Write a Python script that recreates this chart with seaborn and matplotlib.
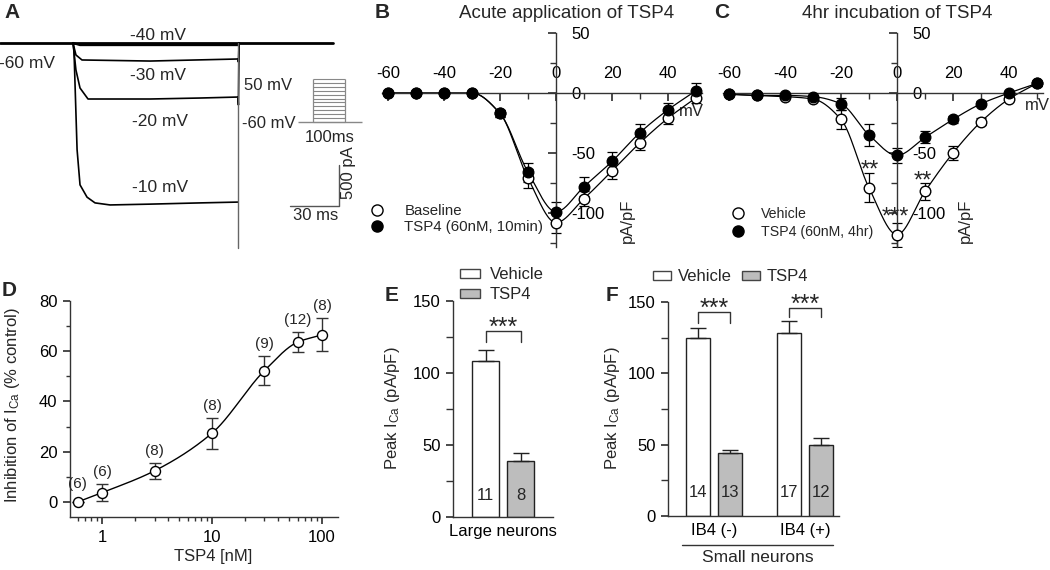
import numpy as np
import pandas as pd
import matplotlib
matplotlib.use("Agg")
import matplotlib.pyplot as plt
import seaborn as sns
from matplotlib.lines import Line2D
from matplotlib.patches import Patch
from matplotlib.ticker import FixedLocator, NullFormatter

# ======================= DATA =======================
# Panel A: representative Ca2+ current traces (time in ms, current in pA)
a_hold_t = [0, 204]
a_hold_i = [0, 0]
a_m40_t = [44.7, 49.0, 145.7, 146.4]
a_m40_i = [0, -25, -25, 0]
a_m30_t = [44.7, 46.5, 50.2, 91.9, 145.7, 146.0, 146.4]
a_m30_i = [0, -146, -207, -220, -195, -232, 0]
a_m20_t = [44.7, 46.5, 49.0, 53.9, 91.9, 122.5, 145.7, 146.0, 146.4]
a_m20_i = [0, -329, -549, -683, -683, -671, -659, -756, 0]
a_m10_t = [44.7, 45.3, 47.2, 49.0, 53.3, 58.2, 67.4, 91.9, 122.5, 145.7]
a_m10_i = [0, -90, -1300, -1730, -1880, -1950, -1975, -1965, -1950, -1940]
a_tail_t = [145.7, 145.7]
a_tail_i = [-2500, 0]
trace_labels = ["-40 mV", "-60 mV", "-30 mV", "-20 mV", "-10 mV"]
# voltage protocol (mV) and step duration (ms)
prot_levels = [-60, -50, -40, -30, -20, -10, 0, 10, 20, 30, 40, 50]
prot_step = [0, 100]
# scale bar sizes
sb_ms = 30
sb_pA = 500

# Panel B: acute application (pA/pF)
b_v = [-60, -50, -40, -30, -20, -10, 0, 10, 20, 30, 40, 50]
b_base = [0, 0, 0, 0, -17, -71, -108, -88, -65, -41.5, -21, -4]
b_base_err = [0, 0, 0, 0, 3, 8, 9, 6, 7, 6, 5, 4]
b_tsp = [0, 0, 0, 0, -17, -66, -99, -78, -57, -33, -14, 2]
b_tsp_err = [0, 0, 0, 0, 3, 8, 8, 8, 8, 7, 6, 6]

# Panel C: 4 hr incubation (pA/pF)
c_v = [-60, -50, -40, -30, -20, -10, 0, 10, 20, 30, 40, 50]
c_veh = [-1, -2, -3, -5, -22, -79, -118, -82, -50, -24, -5, 8]
c_veh_err = [0, 0, 1, 1, 8, 12, 10, 7, 6, 3, 2, 2]
c_tsp = [-1, -2, -2, -3, -9, -35, -52, -37, -22, -9, 0, 8]
c_tsp_err = [0, 0, 1, 1, 5, 9, 6, 5, 3, 2, 2, 2]
c_sig = ["**", "**", "***"]

# Panel D: concentration-response
d_conc = [0.6, 1, 3, 10, 30, 60, 100]
d_inhib = [0, 3.7, 12.4, 27.4, 52.3, 63.6, 66.5]
d_err = [0, 3.3, 3.1, 6.2, 5.9, 4.0, 6.6]
d_n = ["(6)", "(6)", "(8)", "(8)", "(9)", "(12)", "(8)"]

# Panel E: large neurons
e_groups = ["Large neurons"]
e_veh = [108]
e_veh_err = [8]
e_tsp = [39]
e_tsp_err = [5.5]
e_veh_n = [11]
e_tsp_n = [8]

# Panel F: small neurons
f_groups = ["IB4 (-)", "IB4 (+)"]
f_veh = [125, 128.5]
f_veh_err = [7, 8]
f_tsp = [44, 49.5]
f_tsp_err = [2.5, 5.5]
f_veh_n = [14, 17]
f_tsp_n = [13, 12]

conds = ["Vehicle", "TSP4"]

# ======================= STYLE =======================
sns.set_theme(style="ticks")
plt.rcParams["font.family"] = ["Liberation Sans", "DejaVu Sans"]
plt.rcParams["mathtext.fontset"] = "custom"
plt.rcParams["mathtext.rm"] = "Liberation Sans"
plt.rcParams["mathtext.it"] = "Liberation Sans:italic"
plt.rcParams["axes.unicode_minus"] = False
plt.rcParams["axes.edgecolor"] = "#333333"
plt.rcParams["axes.linewidth"] = 1.0
plt.rcParams["xtick.color"] = "#333333"
plt.rcParams["ytick.color"] = "#333333"
plt.rcParams["xtick.labelcolor"] = "black"
plt.rcParams["ytick.labelcolor"] = "black"
plt.rcParams["xtick.labelsize"] = 12
plt.rcParams["ytick.labelsize"] = 12

FS = 12
W, H = 1050, 570
fig = plt.figure(figsize=(10.5, 5.7), dpi=100)
fig.patch.set_facecolor("white")


def rect(b):
    x0, y0, x1, y1 = b
    return [x0 / W, 1 - y1 / H, (x1 - x0) / W, (y1 - y0) / H]


def ftext(x, y, s, **kw):
    kw.setdefault("ha", "center")
    kw.setdefault("va", "center")
    return fig.text(x / W, 1 - y / H, s, **kw)


def place_label(axis, b, x, y):
    x0, y0, x1, y1 = b
    axis.set_label_coords((x - x0) / (x1 - x0), (y1 - y) / (y1 - y0))
    lab = axis.label
    lab.set_ha("center")
    lab.set_va("center")
    lab.set_rotation_mode("default")


def pchip(x, y, xn):
    x = np.asarray(x, float)
    y = np.asarray(y, float)
    h = np.diff(x)
    d = np.diff(y) / h
    n = len(x)
    m = np.zeros(n)
    for k in range(1, n - 1):
        if d[k - 1] * d[k] > 0:
            w1 = 2 * h[k] + h[k - 1]
            w2 = h[k] + 2 * h[k - 1]
            m[k] = (w1 + w2) / (w1 / d[k - 1] + w2 / d[k])
    m[0] = d[0]
    m[-1] = d[-1]
    idx = np.clip(np.searchsorted(x, xn) - 1, 0, n - 2)
    t = (xn - x[idx]) / h[idx]
    h00 = 2 * t**3 - 3 * t**2 + 1
    h10 = t**3 - 2 * t**2 + t
    h01 = -2 * t**3 + 3 * t**2
    h11 = t**3 - t**2
    return h00 * y[idx] + h10 * h[idx] * m[idx] + h01 * y[idx + 1] + h11 * h[idx] * m[idx + 1]


LETTER = dict(fontsize=15, fontweight="bold")

# ======================= PANEL A =======================
px_ms, px_pA, base_px = 1.633, 0.082, 43
bA = (0, 20, 365, 260)
axA = fig.add_axes(rect(bA))
axA.set_xlim(0, (bA[2] - bA[0]) / px_ms)
axA.set_ylim(-(bA[3] - base_px) / px_pA, (base_px - bA[1]) / px_pA)
axA.axis("off")
sns.lineplot(x=a_hold_t, y=a_hold_i, color="black", lw=2.0, ax=axA, sort=False, estimator=None)
sns.lineplot(x=a_m40_t, y=a_m40_i, color="black", lw=1.6, ax=axA, sort=False, estimator=None)
for tt, ii in [(a_m30_t, a_m30_i), (a_m20_t, a_m20_i), (a_m10_t, a_m10_i)]:
    sns.lineplot(x=tt, y=ii, color="black", lw=1.2, ax=axA, sort=False, estimator=None)
sns.lineplot(x=a_tail_t, y=a_tail_i, color="#666666", lw=1.0, ax=axA, sort=False, estimator=None)
# scale bar
sb_x1 = 339 / px_ms
sb_y0 = -(206 - base_px) / px_pA
axA.plot([sb_x1 - sb_ms, sb_x1, sb_x1], [sb_y0, sb_y0, sb_y0 + sb_pA], color="#555555", lw=1.0)

for lab, (x, y) in zip(trace_labels, [(158, 35), (27, 63), (158, 76), (160, 122), (160, 188)]):
    ftext(x, y, lab, fontsize=12.5)
ftext(268, 85, "50 mV", fontsize=12)
ftext(269, 123, "-60 mV", fontsize=12)
ftext(330, 138, "100ms", fontsize=12)
ftext(316, 215, f"{sb_ms} ms", fontsize=12)
ftext(349, 173, f"{sb_pA} pA", fontsize=12, rotation=90)

# protocol inset
bP = (298, 79, 362, 122)
axP = fig.add_axes(rect(bP))
axP.axis("off")
axP.set_xlim((bP[0] - 313) / 0.32, (bP[2] - 313) / 0.32)
axP.set_ylim(-60, 50)
axP.hlines(prot_levels, prot_step[0], prot_step[1], color="#888888", lw=0.8, clip_on=False)
axP.vlines(prot_step, min(prot_levels), max(prot_levels), color="#888888", lw=0.9, clip_on=False)
axP.hlines([prot_levels[0]], axP.get_xlim()[0], axP.get_xlim()[1], color="#888888", lw=1.0, clip_on=False)

ftext(12, 12, "A", **LETTER)


# ======================= PANELS B & C =======================
def iv_panel(b, v, y_open, e_open, y_fill, e_fill, leg_labels, leg_anchor, leg_pad, leg_fs, leg_sp):
    ax = fig.add_axes(rect(b))
    ax.patch.set_alpha(0)
    xs = np.linspace(v[0], v[-1], 400)
    sns.lineplot(x=xs, y=pchip(v, y_open, xs), color="black", lw=0.9, ax=ax)
    sns.lineplot(x=xs, y=pchip(v, y_fill, xs), color="black", lw=0.9, ax=ax)
    ax.errorbar(v, y_open, yerr=e_open, fmt="none", ecolor="black", elinewidth=0.9, capsize=3.5, capthick=0.9, zorder=2)
    ax.errorbar(v, y_fill, yerr=e_fill, fmt="none", ecolor="black", elinewidth=0.9, capsize=3.5, capthick=0.9, zorder=2)
    sns.scatterplot(x=v, y=y_open, color="white", edgecolor="black", linewidth=1.0, s=58, zorder=3, ax=ax)
    sns.scatterplot(x=v, y=y_fill, color="black", edgecolor="black", linewidth=1.0, s=58, zorder=4, ax=ax)
    ax.set_xlim(-62, 52)
    ax.set_ylim(-128, 50)
    ax.spines["left"].set_visible(False)
    ax.spines["bottom"].set_visible(False)
    ax.spines["top"].set_position(("data", 0))
    ax.spines["right"].set_position(("data", 0))
    ax.xaxis.set_ticks_position("top")
    ax.yaxis.set_ticks_position("right")
    ax.set_xticks([-60, -40, -20, 0, 20, 40])
    ax.xaxis.set_minor_locator(FixedLocator([-50, -30, -10, 10, 30, 50]))
    ax.set_yticks([-100, -50, 0, 50])
    ax.yaxis.set_minor_locator(FixedLocator([-125, -75, -25, 25]))
    ax.tick_params(axis="x", which="both", direction="in", pad=9, top=True, bottom=False,
                   labeltop=True, labelbottom=False)
    ax.tick_params(axis="y", which="both", direction="in", pad=11, right=True, left=False,
                   labelright=True, labelleft=False)
    ax.tick_params(which="major", length=6)
    ax.tick_params(which="minor", length=4)
    ax.set_xlabel("mV", fontsize=FS)
    ax.set_ylabel("pA/pF", fontsize=FS, rotation=90)
    handles = [Line2D([], [], marker="o", ls="none", mfc="white", mec="black", ms=8, mew=1.0),
               Line2D([], [], marker="o", ls="none", mfc="black", mec="black", ms=8, mew=1.0)]
    ax.legend(handles, leg_labels, loc="upper left",
              bbox_to_anchor=(leg_anchor[0] / W, 1 - leg_anchor[1] / H), bbox_transform=fig.transFigure,
              frameon=False, fontsize=leg_fs, handlelength=1.0, handletextpad=leg_pad, labelspacing=leg_sp,
              borderpad=0, borderaxespad=0)
    return ax


bB = (382.4, 33, 701.6, 246.6)
axB = iv_panel(bB, b_v, b_base, b_base_err, b_tsp, b_tsp_err,
               ["Baseline", "TSP4 (60nM, 10min)"], (369, 204), 1.35, 10.8, 0.15)
place_label(axB.xaxis, bB, 691, 112)
place_label(axB.yaxis, bB, 627, 221)
ftext(567, 13, "Acute application of TSP4", fontsize=13.5)
ftext(382, 13, "B", **LETTER)

bC = (723.4, 33, 1042.6, 246.6)
axC = iv_panel(bC, c_v, c_veh, c_veh_err, c_tsp, c_tsp_err,
               ["Vehicle", "TSP4 (60nM, 4hr)"], (731, 207), 1.1, 10.2, 0.3)
place_label(axC.xaxis, bC, 1037, 106)
place_label(axC.yaxis, bC, 965, 221)
for s, (x, y) in zip(c_sig, [(-9.6, -70), (9.3, -79), (-0.6, -109)]):
    axC.text(x, y, s, ha="center", va="baseline", fontsize=17, zorder=5)
ftext(897, 13, "4hr incubation of TSP4", fontsize=13.5)
ftext(722, 13, "C", **LETTER)

# ======================= PANEL D =======================
bD = (70, 301, 338, 517)
axD = fig.add_axes(rect(bD))
axD.set_xscale("log")
lx = np.linspace(np.log10(d_conc[0]), np.log10(d_conc[-1]), 300)
sns.lineplot(x=10**lx, y=pchip(np.log10(d_conc), d_inhib, lx), color="black", lw=1.0, ax=axD)
axD.errorbar(d_conc, d_inhib, yerr=d_err, fmt="none", ecolor="#333333", elinewidth=1.0,
             capsize=4, capthick=1.0, zorder=2)
sns.scatterplot(x=d_conc, y=d_inhib, color="white", edgecolor="black", linewidth=1.0, s=52, zorder=3, ax=axD)
for c, m, e, n in zip(d_conc, d_inhib, d_err, d_n):
    axD.annotate(n, (c, m + max(e, 2.5)), xytext=(0, 3.5), textcoords="offset points",
                 ha="center", va="bottom", fontsize=11)
axD.set_xlim(0.51, 140)
axD.set_ylim(-6, 80)
sns.despine(ax=axD)
axD.set_xticks([1, 10, 100])
axD.set_xticklabels(["1", "10", "100"])
axD.xaxis.set_minor_locator(FixedLocator([0.6, 0.7, 0.8, 0.9, 2, 3, 4, 5, 6, 7, 8, 9,
                                          20, 30, 40, 50, 60, 70, 80, 90]))
axD.xaxis.set_minor_formatter(NullFormatter())
axD.set_yticks([0, 20, 40, 60, 80])
axD.yaxis.set_minor_locator(FixedLocator([10, 30, 50, 70]))
axD.tick_params(which="major", direction="out", length=5, pad=4)
axD.tick_params(which="minor", direction="out", length=3)
axD.set_xlabel("TSP4 [nM]", fontsize=FS)
axD.set_ylabel("Inhibition of I$_{\\rm Ca}$ (% control)", fontsize=12)
place_label(axD.xaxis, bD, 213, 557)
place_label(axD.yaxis, bD, 12, 405)
ftext(9, 290, "D", **LETTER)


# ======================= PANELS E & F =======================
def bar_panel(b, groups, veh, veh_err, tsp, tsp_err, veh_n, tsp_n, xlim, n_y, brackets):
    ax = fig.add_axes(rect(b))
    df = pd.DataFrame({
        "group": groups * 2,
        "cond": [conds[0]] * len(groups) + [conds[1]] * len(groups),
        "val": veh + tsp,
    })
    sns.barplot(data=df, x="group", y="val", hue="cond", hue_order=conds,
                palette={"Vehicle": "white", "TSP4": "#bdbdbd"}, saturation=1,
                edgecolor="#222222", linewidth=1.0, width=0.7, gap=0.25,
                errorbar=None, legend=False, ax=ax)
    centers = []
    for cont, errs, ns in zip(ax.containers, [veh_err, tsp_err], [veh_n, tsp_n]):
        cs = []
        for bar, e, n in zip(cont, errs, ns):
            cx = bar.get_x() + bar.get_width() / 2
            h = bar.get_height()
            ax.errorbar([cx], [h], yerr=[[0], [e]], fmt="none", ecolor="#222222",
                        elinewidth=1.0, capsize=5.5, capthick=1.0, zorder=3)
            ax.text(cx, n_y, str(n), ha="center", va="center", fontsize=12)
            cs.append(cx)
        centers.append(cs)
    for g, (top, legl, legr) in enumerate(brackets):
        xl, xr = centers[0][g], centers[1][g]
        ax.plot([xl, xl, xr, xr], [legl, top, top, legr], color="#333333", lw=1.0, clip_on=False)
        ax.annotate("***", ((xl + xr) / 2, top), xytext=(0, -2.5), textcoords="offset points",
                    ha="center", va="baseline", fontsize=18, annotation_clip=False)
    ax.set_xlim(*xlim)
    ax.set_ylim(0, 150)
    sns.despine(ax=ax)
    ax.set_yticks([0, 50, 100, 150])
    ax.yaxis.set_minor_locator(FixedLocator([25, 75, 125]))
    ax.tick_params(axis="y", which="both", direction="out", length=5, pad=4)
    ax.tick_params(axis="x", length=0, pad=5)
    ax.set_xlabel("")
    return ax


bE = (453, 301, 553, 517)
axE = bar_panel(bE, e_groups, e_veh, e_veh_err, e_tsp, e_tsp_err, e_veh_n, e_tsp_n,
                (-0.5, 0.5), 15, [(129, 121.5, 121.5)])
axE.set_ylabel("Peak I$_{\\rm Ca}$ (pA/pF)", fontsize=FS)
place_label(axE.yaxis, bE, 393, 408)
leg_handles = [Patch(facecolor="white", edgecolor="#444444", lw=1.0),
               Patch(facecolor="#bdbdbd", edgecolor="#444444", lw=1.0)]
axE.legend(leg_handles, conds, loc="upper left",
           bbox_to_anchor=(460 / W, 1 - 267 / H), bbox_transform=fig.transFigure,
           frameon=False, fontsize=12, handlelength=1.2, handleheight=0.45,
           handletextpad=0.6, labelspacing=0.3, borderpad=0, borderaxespad=0)
ftext(392, 296, "E", **LETTER)

bF = (668, 302, 839, 516)
axF = bar_panel(bF, f_groups, f_veh, f_veh_err, f_tsp, f_tsp_err, f_veh_n, f_tsp_n,
                (-0.505, 1.374), 16.5, [(143, 135, 135), (145.8, 139.5, 139.5)])
axF.set_ylabel("Peak I$_{\\rm Ca}$ (pA/pF)", fontsize=FS)
place_label(axF.yaxis, bF, 613, 408)
xt = axF.get_xaxis_transform()
axF.plot([-0.352, 1.308], [-0.136, -0.136], transform=xt, color="#333333", lw=1.0, clip_on=False)
axF.text(0.484, -0.192, "Small neurons", transform=xt, ha="center", va="center", fontsize=12.5)
axF.legend(leg_handles, conds, loc="upper left", ncol=2,
           bbox_to_anchor=(653 / W, 1 - 269 / H), bbox_transform=fig.transFigure,
           frameon=False, fontsize=12, handlelength=1.1, handleheight=0.45,
           handletextpad=0.4, columnspacing=0.6, borderpad=0, borderaxespad=0)
ftext(612, 296, "F", **LETTER)

fig.savefig("out.png", dpi=100, facecolor="white")
